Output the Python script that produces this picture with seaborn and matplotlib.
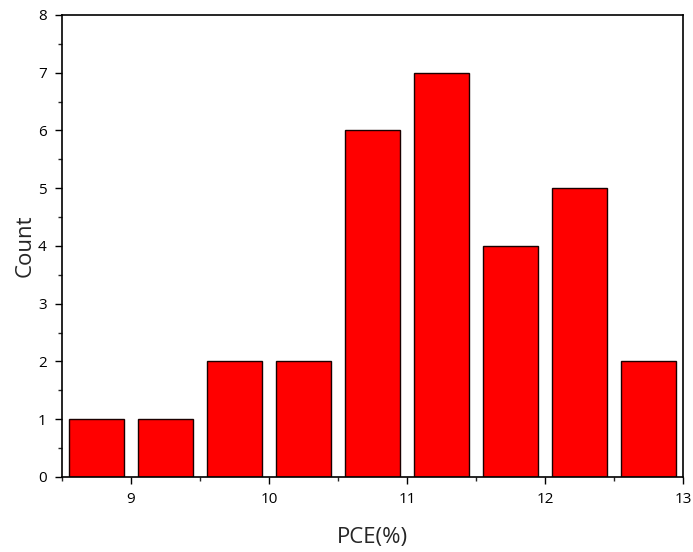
import matplotlib
matplotlib.use("Agg")
import matplotlib.pyplot as plt
import seaborn as sns
from matplotlib.ticker import MultipleLocator

# bin centres of PCE (%) and the counts in each bin
bin_centers = [8.75, 9.25, 9.75, 10.25, 10.75, 11.25, 11.75, 12.25, 12.75]
counts = [1, 1, 2, 2, 6, 7, 4, 5, 2]

sns.set_style("ticks")
plt.rcParams['font.family'] = ['Open Sans', 'DejaVu Sans']

fig = plt.figure(figsize=(6.93, 5.52), dpi=100)
ax = fig.add_axes([0.0895, 0.136, 0.896, 0.837])

sns.barplot(x=bin_centers, y=counts, native_scale=True, width=0.8,
            color="#FF0000", saturation=1, edgecolor="#1a0000", linewidth=1, ax=ax)

ax.set_xlim(8.5, 13)
ax.set_ylim(0, 8)
ax.xaxis.set_major_locator(MultipleLocator(1))
ax.xaxis.set_minor_locator(MultipleLocator(0.5))
ax.yaxis.set_major_locator(MultipleLocator(1))
ax.yaxis.set_minor_locator(MultipleLocator(0.5))
ax.tick_params(which='major', direction='out', length=5, width=1, labelsize=11,
               colors='black', pad=6)
ax.tick_params(which='minor', direction='out', length=3, width=1)
for s in ax.spines.values():
    s.set_visible(True)
    s.set_linewidth(1.2)
    s.set_color('black')

ax.set_xlabel("PCE(%)", fontsize=16, labelpad=14)
ax.set_ylabel("Count", fontsize=16, labelpad=2)

fig.savefig("out.png", dpi=100)
